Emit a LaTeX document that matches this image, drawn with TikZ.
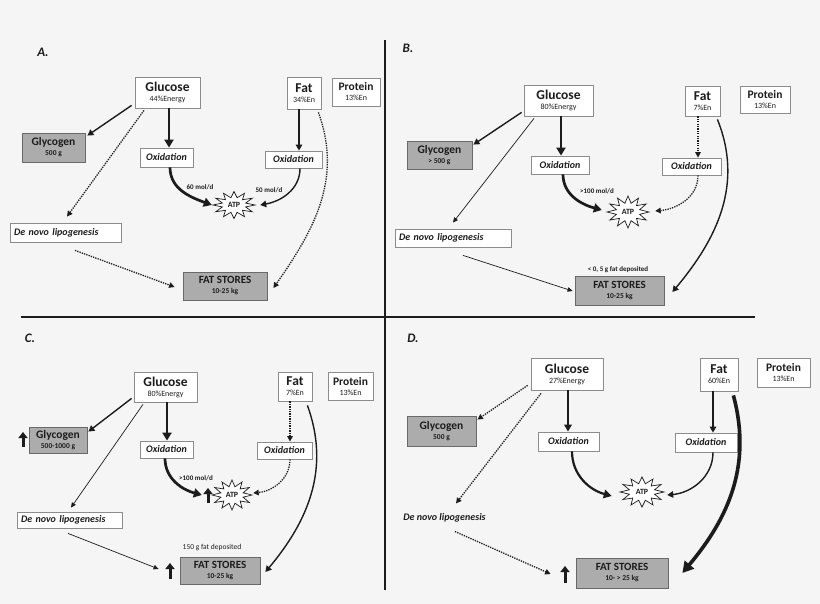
\documentclass[tikz,border=0pt]{standalone}
\usepackage{fontspec}
\setmainfont{Carlito}
\usetikzlibrary{arrows.meta,shapes.geometric,calc}
\definecolor{bg}{RGB}{245,245,245}
\definecolor{ink}{RGB}{28,28,28}
\definecolor{bord}{RGB}{140,140,140}
\definecolor{gfill}{RGB}{172,172,172}
\definecolor{gbord}{RGB}{105,105,105}
\newcommand\fsz[1]{\fontsize{#1}{#1}\selectfont}
\newcommand\atpstar[5]{%
  \draw[line width=0.7pt, draw=ink, fill=white] ($(#1)+(0:#2 and #3)$)
  \foreach \i in {0,...,11}{ -- ($(#1)+({\i*30+15}:#4 and #5)$) -- ($(#1)+({\i*30+30}:#2 and #3)$)} -- cycle;}
\tikzset{
  sz/.style 2 args={minimum width=#1pt, minimum height=#2pt},
  wbox/.style={draw=bord, fill=white, line width=0.8pt, inner sep=1pt, align=center, text=ink, font=\fsz{10}},
  gbox/.style={draw=gbord, fill=gfill, line width=0.8pt, inner sep=1pt, align=center, text=ink, font=\fsz{10}},
  oxbox/.style={wbox, font=\fsz{10}\bfseries\itshape},
  dnbox/.style={wbox, align=left, inner xsep=4pt, text width=#1pt, font=\fsz{10}\bfseries\itshape},
  dntext/.style={inner sep=2pt, text=ink, font=\fsz{10}\bfseries\itshape},
  atpn/.style={ellipse, inner sep=0pt, text=ink, font=\fsz{8}\bfseries},
  lab/.style={inner sep=0pt, text=ink, font=\fsz{7}\bfseries},
  labr/.style={inner sep=0pt, text=ink, font=\fsz{7.5}},
  ttl/.style={inner sep=0pt, text=ink, font=\fsz{13}\bfseries\itshape},
  arr/.style={draw=ink, line cap=butt},
  thn/.style={arr, line width=0.7pt, -{Triangle[length=5pt,width=4.5pt]}},
  med/.style={arr, line width=1.4pt, -{Triangle[length=6pt,width=6.5pt]}},
  thk/.style={arr, line width=2.7pt, -{Triangle[length=8pt,width=9pt]}},
  vthk/.style={arr, line width=3.6pt, -{Triangle[length=11pt,width=12pt]}},
  dot/.style={arr, line width=1.3pt, dash pattern=on 1.3pt off 1.1pt, -{Triangle[length=5.5pt,width=5.5pt]}},
  uparr/.style={draw=ink, line width=3pt, -{Triangle[length=6pt,width=9pt]}},
  divider/.style={draw=ink}
}
\newcommand\bigt[1]{{\fsz{13.5}\bfseries #1}}
\newcommand\prt[1]{{\fsz{11.5}\bfseries #1}}
\newcommand\gyt[1]{{\fsz{11.5}\bfseries #1}}
\newcommand\fst[1]{{\fsz{11}\bfseries #1}}
\newcommand\smt[1]{{\fsz{8}#1}}
\newcommand\smb[1]{{\fsz{7.5}\bfseries #1}}
\begin{document}
\begin{tikzpicture}[x=1pt,y=1pt]
\fill[bg] (0,0) rectangle (820,-604);
\useasboundingbox (0,0) rectangle (820,-604);
% dividers
\draw[divider, line width=2.5pt] (21,-317) -- (755,-317);
\draw[divider, line width=1.8pt] (385,-40) -- (385,-590);

% ================= A =================
\node[ttl] (tA) at (43,-52) {A.};
\node[wbox, sz={65}{31}] (gA) at (167.5,-92.5) {\bigt{Glucose}\\\smt{44\%Energy}};
\node[wbox, sz={34}{32}] (fA) at (304,-93) {\bigt{Fat}\\\smt{34\%En}};
\node[wbox, sz={48}{28}] (pA) at (356,-92) {\prt{Protein}\\\smt{13\%En}};
\node[gbox, sz={63}{29}] (glyA) at (53.5,-147.5) {\gyt{Glycogen}\\\smb{500 g}};
\node[oxbox, sz={53}{19}] (o1A) at (166.5,-157.5) {Oxidation};
\node[oxbox, sz={57}{17}] (o2A) at (293.5,-159.5) {Oxidation};
\coordinate (cA) at (234,-205);
\atpstar{cA}{21}{13.5}{12}{7.5}
\node[atpn, minimum width=42pt, minimum height=27pt] (atpA) at (cA) {ATP};
\node[dnbox=103, minimum height=19pt] (dA) at (65.5,-232.5) {De novo lipogenesis};
\node[gbox, sz={84}{28}] (sA) at (225,-286) {\fst{FAT STORES}\\\smb{10-25 kg}};
\node[lab] (rA1) at (200,-187) {60 mol/d};
\node[lab] (rA2) at (269,-190) {50 mol/d};
\draw[med] ($(gA.south west)+(-3,3)$) -- ($(glyA.north east)+(2,-3)$);
\draw[dot] ($(gA.south)+(-23.5,-2)$) -- ($(dA.north)+(1.5,6)$);
\draw[thk] ($(gA.south)+(1.5,0)$) -- ($(o1A.north)+(2.5,0)$);
\draw[med] ($(fA.south)+(-5,0)$) -- ($(o2A.north)+(5.5,0)$);
\draw[thk] ($(o1A.south)+(3.5,0)$) to[out=-90,in=160] ($(atpA.west)+(-1,0)$);
\draw[med] ($(o2A.south)+(6.5,0)$) to[out=-90,in=10] ($(atpA.east)+(5,0)$);
\draw[dot] ($(fA.south east)+(-3,-3)$) to[out=-70,in=55] ($(sA.east)+(6,-2)$);
\draw[dot] ($(dA.south)+(9.5,-8)$) -- ($(sA.west)+(-8,-1)$);

% ================= B =================
\node[ttl] (tB) at (408,-48) {B.};
\node[wbox, sz={69}{31}] (gB) at (558.5,-100.5) {\bigt{Glucose}\\\smt{80\%Energy}};
\node[wbox, sz={35}{30}] (fB) at (702.5,-101) {\bigt{Fat}\\\smt{7\%En}};
\node[wbox, sz={50}{27}] (pB) at (765,-99.5) {\prt{Protein}\\\smt{13\%En}};
\node[gbox, sz={65}{28}] (glyB) at (439.5,-155) {\gyt{Glycogen}\\\smb{> 500 g}};
\node[oxbox, sz={58}{18}] (o1B) at (560,-165) {Oxidation};
\node[oxbox, sz={59}{17}] (o2B) at (691.5,-166.5) {Oxidation};
\coordinate (cB) at (628,-212);
\atpstar{cB}{21}{16}{12}{9}
\node[atpn, minimum width=42pt, minimum height=32pt] (atpB) at (cB) {ATP};
\node[dnbox=108, minimum height=18pt] (dB) at (453,-238) {De novo lipogenesis};
\node[gbox, sz={89}{29}] (sB) at (619.5,-290.5) {\fst{FAT STORES}\\\smb{10-25 kg}};
\node[lab] (rB1) at (597,-191) {>100 mol/d};
\node[lab] (rB2) at (618,-270) {< 0, 5 g fat deposited};
\draw[med] ($(gB.south west)+(-2,4)$) -- ($(glyB.north east)+(1,-4)$);
\draw[thn] ($(gB.south)+(-24.5,-2)$) -- ($(dB.north)+(0,6)$);
\draw[thk] ($(gB.south)+(2.5,0)$) -- ($(o1B.north)+(1,0)$);
\draw[dot] ($(fB.south)+(-4.5,0)$) -- ($(o2B.north)+(6.5,0)$);
\draw[thk] ($(o1B.south)+(3,0)$) to[out=-90,in=165] ($(atpB.west)+(-5,2)$);
\draw[dot] ($(o2B.south)+(6.5,0)$) to[out=-90,in=5] ($(atpB.east)+(6,1)$);
\draw[med] ($(fB.south east)+(-3,-3)$) to[out=-68,in=50] ($(sB.east)+(8,-1.5)$);
\draw[thn] ($(dB.south)+(10,-8)$) -- ($(sB.west)+(-2,-0.5)$);

% ================= C =================
\node[ttl] (tC) at (30,-338) {C.};
\node[wbox, sz={63}{30}] (gC) at (165.5,-387) {\bigt{Glucose}\\\smt{80\%Energy}};
\node[wbox, sz={34}{29}] (fC) at (295,-386.5) {\bigt{Fat}\\\smt{7\%En}};
\node[wbox, sz={45}{28}] (pC) at (350.5,-386) {\prt{Protein}\\\smt{13\%En}};
\node[gbox, sz={58}{26}] (glyC) at (58,-440) {\gyt{Glycogen}\\\smb{500-1000 g}};
\node[oxbox, sz={53}{17}] (o1C) at (166.5,-449.5) {Oxidation};
\node[oxbox, sz={55}{17}] (o2C) at (284.5,-450.5) {Oxidation};
\coordinate (cC) at (232,-495);
\atpstar{cC}{20}{15}{11.5}{8.5}
\node[atpn, minimum width=40pt, minimum height=30pt] (atpC) at (cC) {ATP};
\node[dnbox=97, minimum height=16pt] (dC) at (69.5,-520) {De novo lipogenesis};
\node[gbox, sz={80}{27}] (sC) at (220,-570.5) {\fst{FAT STORES}\\\smb{10-25 kg}};
\node[lab] (rC1) at (196,-478) {>100 mol/d};
\node[labr] (rC2) at (212,-548) {150 g fat deposited};
\draw[med] ($(gC.south west)+(-2,4)$) -- ($(glyC.north east)+(1,-5)$);
\draw[thn] ($(gC.south)+(-22.5,-2)$) -- ($(dC.north)+(1.5,4)$);
\draw[thk] ($(gC.south)+(1.5,0)$) -- ($(o1C.north)+(0.5,0)$);
\draw[dot] ($(fC.south)+(-5,0)$) -- ($(o2C.north)+(5.5,0)$);
\draw[thk] ($(o1C.south)+(-1.5,0)$) to[out=-90,in=165] ($(atpC.west)+(-10,0)$);
\draw[dot] ($(o2C.south)+(5.5,0)$) to[out=-90,in=5] ($(atpC.east)+(1,2)$);
\draw[med] ($(fC.south east)+(-5,-4)$) to[out=-70,in=50] ($(sC.east)+(5,-1.5)$);
\draw[thn] ($(dC.south)+(-1.5,-5)$) -- ($(sC.west)+(-21,1.5)$);
\draw[uparr] (23,-447) -- (23,-432);
\draw[uparr] (208,-503) -- (208,-488);
\draw[uparr] (170,-579) -- (170,-563);

% ================= D =================
\node[ttl] (tD) at (413,-338) {D.};
\node[wbox, sz={72}{32}] (gD) at (567,-374) {\bigt{Glucose}\\\smt{27\%Energy}};
\node[wbox, sz={38}{33}] (fD) at (719,-374.5) {\bigt{Fat}\\\smt{60\%En}};
\node[wbox, sz={53}{29}] (pD) at (783.5,-372.5) {\prt{Protein}\\\smt{13\%En}};
\node[gbox, sz={69}{30}] (glyD) at (441.5,-431) {\gyt{Glycogen}\\\smb{500 g}};
\node[oxbox, sz={61}{19}] (o1D) at (568.5,-441.5) {Oxidation};
\node[oxbox, sz={62}{19}] (o2D) at (706,-442.5) {Oxidation};
\coordinate (cD) at (642,-492);
\atpstar{cD}{22}{15}{13}{8.5}
\node[atpn, minimum width=44pt, minimum height=30pt] (atpD) at (cD) {ATP};
\node[dntext] (dD) at (444.5,-518) {De novo lipogenesis};
\node[gbox, sz={92}{30}] (sD) at (622,-573) {\fst{FAT STORES}\\\smb{10- > 25 kg}};
\draw[dot] ($(gD.south west)+(-3,5)$) -- ($(glyD.north east)+(1,-4)$);
\draw[dot] ($(gD.south)+(-26,-3)$) -- ($(dD.north)+(11.5,8)$);
\draw[arr, line width=1.8pt, -{Triangle[length=7pt,width=7.5pt]}] ($(gD.south)+(1,0)$) -- ($(o1D.north)+(-0.5,0)$);
\draw[med] ($(fD.south)+(-6,0)$) -- ($(o2D.north)+(7,0)$);
\draw[arr, line width=2.2pt, -{Triangle[length=8pt,width=8.5pt]}] ($(o1D.south)+(3.5,0)$) to[out=-90,in=165] ($(atpD.west)+(-8,-4)$);
\draw[med] ($(o2D.south)+(7,0)$) to[out=-90,in=5] ($(atpD.east)+(3,-3)$);
\draw[vthk] ($(fD.south east)+(-5,-4)$) to[out=-75,in=50] ($(sD.east)+(14,0)$);
\draw[dot] ($(dD.south)+(10.5,-7)$) -- ($(sD.west)+(-25,-1)$);
\draw[uparr] (565,-583) -- (565,-566);
\end{tikzpicture}
\end{document}
